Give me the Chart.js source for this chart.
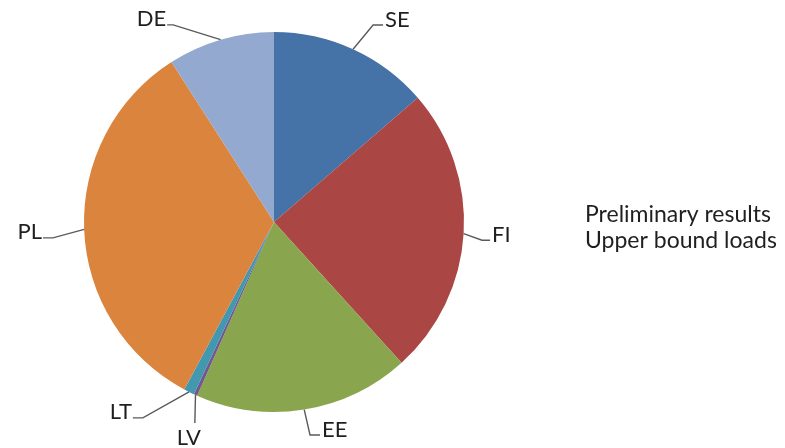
<!DOCTYPE html>
<html>
<head>
<meta charset="utf-8">
<script src="https://cdn.jsdelivr.net/npm/chart.js@4.4.0/dist/chart.umd.min.js"></script>
<style>
  html, body { margin: 0; padding: 0; background: #ffffff; }
  #wrap { position: relative; width: 785px; height: 448px; }
</style>
</head>
<body>
<div id="wrap"><canvas id="c" width="785" height="448"></canvas></div>
<script>
// ---- data ----
const categories = ['SE', 'FI', 'EE', 'LV', 'LT', 'PL', 'DE'];
const shares = [13.7, 24.7, 18.4, 0.3, 0.9, 33.2, 9.1];
const sliceColors = ['#4572A7', '#AA4643', '#89A54E', '#71588F', '#4198AF', '#DB843D', '#93A9CF'];
const noteLines = ['Preliminary results', 'Upper bound loads'];

// ---- label layout (elbow point in polar coords around the pie centre) ----
const labelLayout = {
  SE: { angle: 26.7, r: 220.5, side: 'right', tail: 10 },
  FI: { angle: 95.0, r: 208.8, side: 'right', tail: 8 },
  EE: { angle: 170.4, r: 216, side: 'right', tail: 10 },
  LV: { angle: 201.5, r: 216, side: 'below', tail: 0 },
  LT: { angle: 213.8, r: 235.7, side: 'left', tail: 10 },
  PL: { angle: 265.9, r: 221.6, side: 'left', tail: 10 },
  DE: { angle: 332.9, r: 221.4, side: 'left', tail: 6 }
};

const FONT = '22px Lato';
const NOTE_FONT = '23px Lato';
const TEXT_COLOR = '#1f1f1f';

const labelPlugin = {
  id: 'pieLabels',
  afterDatasetsDraw(chart) {
    const ctx = chart.ctx;
    const meta = chart.getDatasetMeta(0);
    ctx.save();
    ctx.font = FONT;
    ctx.fillStyle = TEXT_COLOR;
    meta.data.forEach((arc, i) => {
      const name = categories[i];
      const lay = labelLayout[name];
      if (!lay) return;
      const p = arc.getProps(['x', 'y', 'startAngle', 'endAngle', 'outerRadius'], true);
      const mid = (p.startAngle + p.endAngle) / 2;
      const rimX = p.x + Math.cos(mid) * p.outerRadius;
      const rimY = p.y + Math.sin(mid) * p.outerRadius;
      const a = (lay.angle - 90) * Math.PI / 180;
      const ex = p.x + Math.cos(a) * lay.r;
      const ey = p.y + Math.sin(a) * lay.r;
      ctx.strokeStyle = '#5a5a5a';
      ctx.lineWidth = 1.4;
      ctx.beginPath();
      ctx.moveTo(rimX, rimY);
      ctx.lineTo(ex, ey);
      let tx = ex;
      if (lay.side === 'right') { tx = ex + lay.tail; ctx.lineTo(tx, ey); }
      else if (lay.side === 'left') { tx = ex - lay.tail; ctx.lineTo(tx, ey); }
      ctx.stroke();
      ctx.textBaseline = 'alphabetic';
      if (lay.side === 'right') {
        ctx.textAlign = 'left';
        ctx.fillText(name, tx + 2, ey + 2);
      } else if (lay.side === 'left') {
        ctx.textAlign = 'right';
        ctx.fillText(name, tx - 1, ey + 1);
      } else {
        ctx.textAlign = 'center';
        ctx.fillText(name, ex - 6, ey + 22);
      }
    });
    // side note
    ctx.font = NOTE_FONT;
    ctx.textAlign = 'left';
    ctx.textBaseline = 'alphabetic';
    ctx.fillText(noteLines[0], 585, 222);
    ctx.fillText(noteLines[1], 585, 248);
    ctx.restore();
  }
};

new Chart(document.getElementById('c'), {
  type: 'pie',
  data: {
    labels: categories,
    datasets: [{
      data: shares,
      backgroundColor: sliceColors,
      borderWidth: 0
    }]
  },
  options: {
    responsive: false,
    animation: false,
    layout: { padding: { left: 84, top: 32, right: 321, bottom: 36 } },
    plugins: {
      legend: { display: false },
      tooltip: { enabled: false }
    }
  },
  plugins: [labelPlugin]
});
</script>
</body>
</html>
